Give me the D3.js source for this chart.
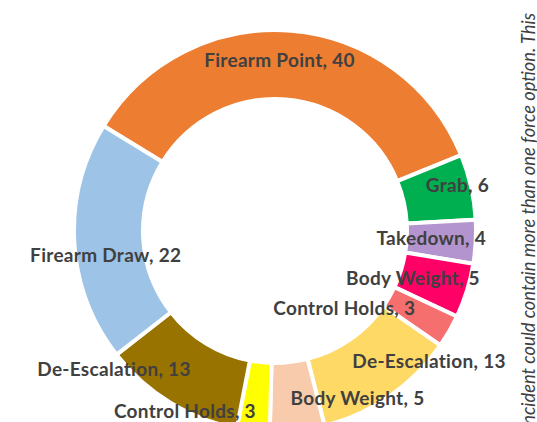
<!DOCTYPE html>
<html>
<head>
<meta charset="utf-8">
<script src="https://cdn.jsdelivr.net/npm/d3@7"></script>
<style>
  html, body { margin: 0; padding: 0; background: #fff; }
  svg { display: block; }
</style>
</head>
<body>
<svg id="chart" width="537" height="422"></svg>
<script>
const categories = ["Firearm Point", "Grab", "Takedown", "Body Weight", "Control Holds",
  "De-Escalation", "Body Weight", "Control Holds", "De-Escalation", "Firearm Draw"];
const values = [40, 6, 4, 5, 3, 13, 5, 3, 13, 22];
const colors = ["#ED7D31", "#00B050", "#B394CF", "#FF0066", "#F66F6F",
  "#FFD966", "#F8CBAD", "#FFFF00", "#997300", "#9DC3E6"];
const noteText = "Each incident could contain more than one force option. This";

// label nudges relative to slice centroid (layout only)
const labelNudge = [[-9, -5], [20, -9], [-10, -2], [-21, -2], [-75, -6],
  [59, -6], [64, 2], [-72, 15], [-74, -4], [-3, 15]];

const W = 537, H = 422;
const cx = 275, cy = 231;
const outerR = 201, innerR = 132;
const startDeg = -58.5;

const svg = d3.select("#chart");
const g = svg.append("g").attr("transform", `translate(${cx},${cy})`);

const data = categories.map((c, i) => ({ name: c, value: values[i], color: colors[i], i }));

const pie = d3.pie()
  .value(d => d.value)
  .sort(null)
  .startAngle(startDeg * Math.PI / 180)
  .endAngle(startDeg * Math.PI / 180 + 2 * Math.PI);

const arc = d3.arc().innerRadius(innerR).outerRadius(outerR);
const labelArc = d3.arc().innerRadius(134).outerRadius(199);

const arcs = pie(data);

g.selectAll("path.slice")
  .data(arcs)
  .join("path")
  .attr("class", "slice")
  .attr("d", arc)
  .attr("fill", d => d.data.color)
  .attr("stroke", "#fff")
  .attr("stroke-width", 4)
  .attr("stroke-linejoin", "miter");

g.selectAll("text.lbl")
  .data(arcs)
  .join("text")
  .attr("class", "lbl")
  .attr("x", d => labelArc.centroid(d)[0] + labelNudge[d.data.i][0])
  .attr("y", d => labelArc.centroid(d)[1] + labelNudge[d.data.i][1])
  .attr("dy", "0.35em")
  .attr("text-anchor", "middle")
  .attr("font-family", "Lato, 'Open Sans', sans-serif")
  .attr("font-weight", 700)
  .attr("font-size", 19)
  .attr("letter-spacing", 0.3)
  .attr("fill", "#404040")
  .text(d => `${d.data.name}, ${d.data.value}`);

svg.append("text")
  .attr("transform", `translate(535,13) rotate(-90)`)
  .attr("text-anchor", "end")
  .attr("font-family", "Lato, 'Open Sans', sans-serif")
  .attr("font-style", "italic")
  .attr("font-size", 18.3)
  .attr("fill", "#404040")
  .text(noteText);
</script>
</body>
</html>
